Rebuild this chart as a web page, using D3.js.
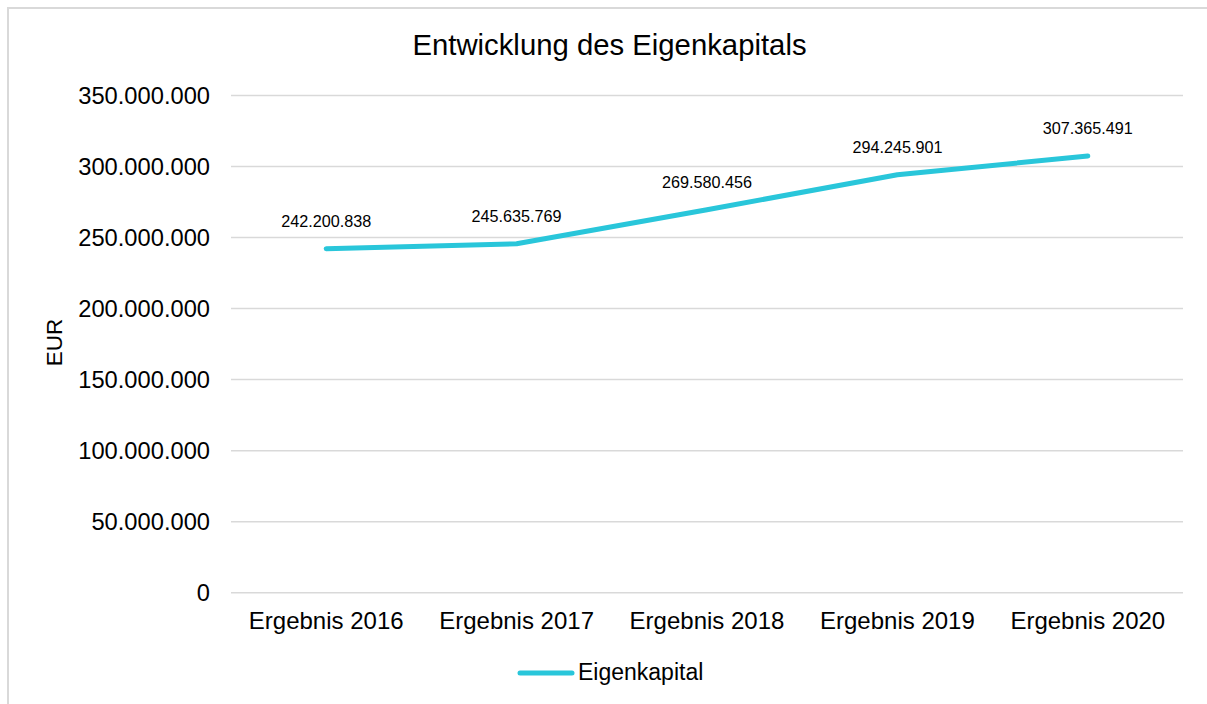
<!DOCTYPE html>
<html>
<head>
<meta charset="utf-8">
<script src="https://cdn.jsdelivr.net/npm/d3@7"></script>
<style>
  html, body { margin: 0; padding: 0; background: #fff; }
  svg { display: block; font-family: "Liberation Sans", Arial, sans-serif; }
</style>
</head>
<body>
<svg id="chart" width="1207" height="704"></svg>
<script>
const categories = ["Ergebnis 2016", "Ergebnis 2017", "Ergebnis 2018", "Ergebnis 2019", "Ergebnis 2020"];
const eigenkapital = [242200838, 245635769, 269580456, 294245901, 307365491];
const yTicks = [0, 50000000, 100000000, 150000000, 200000000, 250000000, 300000000, 350000000];
const seriesName = "Eigenkapital";
const titleText = "Entwicklung des Eigenkapitals";
const yAxisTitle = "EUR";

const fmt = v => d3.format(",")(v).replace(/,/g, ".");

const svg = d3.select("#chart");
const W = 1207, H = 704;
const lineColor = "#29c6da";
const textColor = "#000";

// outer border
svg.append("rect").attr("x", 8).attr("y", 8).attr("width", W + 10).attr("height", H + 10)
  .attr("fill", "#fff").attr("stroke", "#d9d9d9").attr("stroke-width", 2);

const plot = { left: 231, right: 1183, top: 95.5, bottom: 592.7 };

const x = d3.scaleBand().domain(categories).range([plot.left, plot.right]);
const y = d3.scaleLinear().domain([0, 350000000]).range([plot.bottom, plot.top]);

// gridlines
svg.append("g").selectAll("line").data(yTicks).join("line")
  .attr("x1", plot.left).attr("x2", plot.right)
  .attr("y1", d => y(d)).attr("y2", d => y(d))
  .attr("stroke", "#d9d9d9").attr("stroke-width", 1.5);

// y axis labels
const yAxis = d3.axisLeft(y).tickValues(yTicks).tickFormat(fmt).tickSize(0).tickPadding(0);
const gy = svg.append("g").attr("transform", `translate(210,0)`).call(yAxis);
gy.select(".domain").remove();
gy.selectAll("text").attr("font-size", 23.7).attr("fill", textColor)
  .attr("font-family", "'Liberation Sans', Arial, sans-serif");

// x axis labels
const xAxis = d3.axisBottom(x).tickSize(0).tickPadding(0);
const gx = svg.append("g").attr("transform", `translate(0,${plot.bottom})`).call(xAxis);
gx.select(".domain").remove();
gx.selectAll("text").attr("font-size", 24).attr("fill", textColor)
  .attr("dy", null).attr("y", 36)
  .attr("font-family", "'Liberation Sans', Arial, sans-serif");

// line
const data = categories.map((c, i) => ({ c, v: eigenkapital[i] }));
const line = d3.line().x(d => x(d.c) + x.bandwidth() / 2).y(d => y(d.v));
svg.append("path").datum(data).attr("d", line)
  .attr("fill", "none").attr("stroke", lineColor).attr("stroke-width", 5)
  .attr("stroke-linecap", "round").attr("stroke-linejoin", "round");

// data labels
svg.append("g").selectAll("text").data(data).join("text")
  .attr("x", d => x(d.c) + x.bandwidth() / 2)
  .attr("y", d => y(d.v) - 22)
  .attr("text-anchor", "middle").attr("font-size", 16.2).attr("fill", textColor)
  .text(d => fmt(d.v));

// title
svg.append("text").attr("x", 609.5).attr("y", 55).attr("text-anchor", "middle")
  .attr("font-size", 29.3).attr("fill", textColor).text(titleText);

// y axis title
svg.append("text").attr("transform", "translate(62,342.5) rotate(-90)")
  .attr("text-anchor", "middle").attr("font-size", 22.5).attr("fill", textColor).text(yAxisTitle);

// legend
svg.append("line").attr("x1", 520).attr("x2", 572).attr("y1", 673).attr("y2", 673)
  .attr("stroke", lineColor).attr("stroke-width", 5).attr("stroke-linecap", "round");
svg.append("text").attr("x", 578).attr("y", 680).attr("font-size", 23).attr("fill", textColor)
  .text(seriesName);
</script>
</body>
</html>
